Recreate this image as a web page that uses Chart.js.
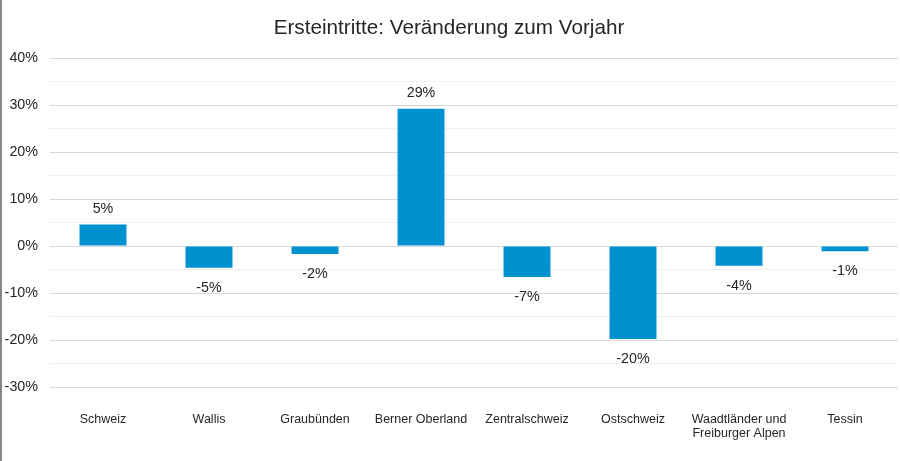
<!DOCTYPE html>
<html>
<head>
<meta charset="utf-8">
<script src="https://cdn.jsdelivr.net/npm/chart.js@4/dist/chart.umd.min.js"></script>
<style>
  html, body { margin: 0; padding: 0; background: #fff; }
  #wrap { position: relative; width: 900px; height: 461px; }
  #border { position: absolute; left: 0; top: 0; width: 2px; height: 461px; background: #858585; }
  canvas { position: absolute; left: 0; top: 0; }
</style>
</head>
<body>
<div id="wrap">
  <canvas id="c" width="900" height="461"></canvas>
  <div id="border"></div>
</div>
<script>
const titleText = 'Ersteintritte: Veränderung zum Vorjahr';
const categories = ['Schweiz', 'Wallis', 'Graubünden', 'Berner Oberland', 'Zentralschweiz', 'Ostschweiz', ['Waadtländer und', 'Freiburger Alpen'], 'Tessin'];
const changePct = [4.6, -4.6, -1.7, 29.2, -6.6, -19.8, -4.2, -1.1];
const yMin = -30, yMax = 40, yStep = 5;

const FONT = "'Liberation Sans', Arial, sans-serif";
const TEXT = '#262626';

const dataLabels = {
  id: 'dataLabels',
  afterDatasetsDraw(chart) {
    const ctx = chart.ctx;
    const meta = chart.getDatasetMeta(0);
    ctx.save();
    ctx.font = '14.3px ' + FONT;
    ctx.fillStyle = TEXT;
    ctx.textAlign = 'center';
    ctx.textBaseline = 'middle';
    meta.data.forEach((bar, i) => {
      const v = changePct[i];
      const y = v >= 0 ? bar.y - 15.5 : bar.y + 20;
      ctx.fillText(Math.round(v) + '%', bar.x, y);
    });
    ctx.restore();
  }
};

new Chart(document.getElementById('c'), {
  type: 'bar',
  data: {
    labels: categories,
    datasets: [{
      data: changePct,
      backgroundColor: '#0092D0',
      borderWidth: 0,
      categoryPercentage: 1,
      barPercentage: 0.443
    }]
  },
  options: {
    responsive: false,
    animation: false,
    layout: { padding: { left: 0, right: 2, top: 0, bottom: 0 } },
    plugins: {
      legend: { display: false },
      tooltip: { enabled: false },
      title: {
        display: true,
        text: titleText,
        color: TEXT,
        font: { family: FONT, size: 20.7, weight: 'normal', lineHeight: 1.2 },
        padding: { top: 16, bottom: 17.2 }
      }
    },
    scales: {
      x: {
        afterFit(scale) { scale.height = 74; },
        grid: { display: false, drawTicks: false },
        border: { display: false },
        ticks: {
          color: TEXT,
          padding: 26,
          maxRotation: 0,
          autoSkip: false,
          font: { family: FONT, size: 12.5, lineHeight: 1.12 }
        }
      },
      y: {
        min: yMin,
        max: yMax,
        afterFit(scale) { scale.width = 50; },
        grid: {
          drawTicks: false,
          color: (ctx) => (ctx.tick && ctx.tick.value % 10 === 0) ? '#d9d9d9' : '#efefef',
          lineWidth: 1
        },
        border: { display: false },
        ticks: {
          stepSize: yStep,
          padding: 12,
          color: TEXT,
          font: { family: FONT, size: 14.3 },
          callback: (v) => (v % 10 === 0 ? v + '%' : '')
        }
      }
    }
  },
  plugins: [dataLabels]
});
</script>
</body>
</html>
